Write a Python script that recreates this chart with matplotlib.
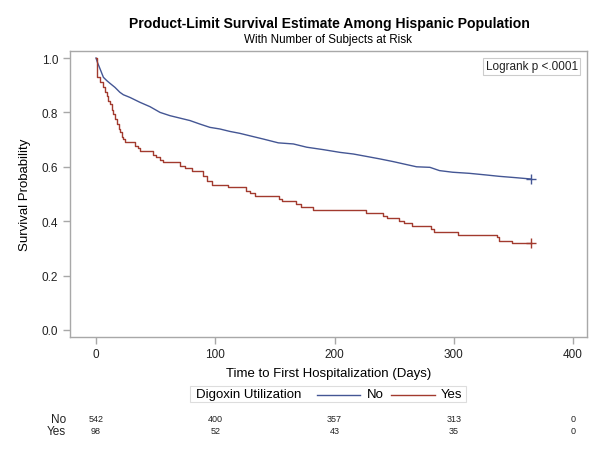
import matplotlib
matplotlib.use("Agg")
import matplotlib.pyplot as plt
import matplotlib.transforms as mtransforms
from matplotlib.lines import Line2D
from matplotlib.patches import Rectangle

plt.rcParams['font.family'] = ['Liberation Sans', 'DejaVu Sans']

# Kaplan-Meier estimates (days, survival)
no_days = [0, 1.2, 3.4, 6.2, 9, 11.7, 15.9, 20, 22.9, 28.5, 36.9, 45.3, 53.7, 62, 70.4,
           78.8, 87.2, 95.5, 103.9, 112.3, 120.6, 129, 140.3, 152.9, 165.5, 176.7,
           190.7, 204.6, 215.8, 227, 238, 249.3, 260.5, 268.8, 280, 288, 299, 313,
           327, 338, 352, 365]
no_surv = [1.0, 0.984, 0.96, 0.929, 0.917, 0.907, 0.892, 0.874, 0.865, 0.855, 0.837,
           0.821, 0.800, 0.788, 0.779, 0.770, 0.757, 0.745, 0.739, 0.730, 0.723, 0.714,
           0.702, 0.688, 0.684, 0.672, 0.663, 0.653, 0.647, 0.638, 0.629, 0.619, 0.608,
           0.600, 0.598, 0.586, 0.580, 0.576, 0.570, 0.565, 0.560, 0.555]

yes_days = [0, 0.6, 3.4, 5.6, 7.5, 9, 10, 11.7, 13, 14.5, 16, 17.3, 19, 20, 22, 22.9,
            24.3, 32.7, 35, 37, 48, 50, 53.7, 56.5, 70.4, 74.6, 80.2, 90, 92.8, 97,
            111, 126, 129, 133, 153.7, 155.7, 167.7, 171.6, 182.2, 226.4, 241, 243.8,
            254.4, 258.3, 264.7, 280.9, 283.4, 303.8, 336, 338, 348.6, 365]
yes_surv = [1.0, 0.931, 0.911, 0.892, 0.874, 0.86, 0.843, 0.831, 0.81, 0.794, 0.775,
            0.757, 0.74, 0.727, 0.71, 0.702, 0.69, 0.678, 0.669, 0.659, 0.645, 0.635,
            0.625, 0.616, 0.604, 0.595, 0.586, 0.567, 0.549, 0.533, 0.525, 0.512, 0.502,
            0.491, 0.482, 0.473, 0.463, 0.451, 0.441, 0.430, 0.420, 0.412, 0.402, 0.392,
            0.381, 0.371, 0.359, 0.349, 0.341, 0.328, 0.319, 0.319]

# number at risk table
risk_days = [0, 100, 200, 300, 400]
risk_no = [542, 400, 357, 313, 0]
risk_yes = [98, 52, 43, 35, 0]

blue = '#445694'
red = '#A23A2E'
frame = '#a8a8a8'

W, H = 604, 456
fig = plt.figure(figsize=(W / 100, H / 100), dpi=100)
ax = fig.add_axes([70 / W, 1 - 337.5 / H, 517 / W, 286 / H])

# the "No" group has hundreds of tiny steps, so it reads as a jagged line
ax.plot(no_days, no_surv, color=blue, lw=1.0)
ax.plot(yes_days, yes_surv, drawstyle='steps-post', color=red, lw=1.0)
ax.plot(no_days[-1], no_surv[-1], marker='+', color=blue, ms=7, mew=1.0)
ax.plot(yes_days[-1], yes_surv[-1], marker='+', color=red, ms=7, mew=1.0)

ax.set_xlim(-21.8, 411.7)
ax.set_ylim(-0.024, 1.0276)
ax.set_xticks([0, 100, 200, 300, 400])
ax.set_yticks([0.0, 0.2, 0.4, 0.6, 0.8, 1.0])
ax.set_yticklabels(['0.0', '0.2', '0.4', '0.6', '0.8', '1.0'])
for s in ax.spines.values():
    s.set_color(frame)
    s.set_linewidth(1.0)
ax.tick_params(colors=frame, labelcolor='#222222', labelsize=8.5, length=5, width=1.0)

ax.set_xlabel('Time to First Hospitalization (Days)', fontsize=9.5, labelpad=5)
ax.set_ylabel('Survival Probability', fontsize=9.5, labelpad=8)

# p-value box
ax.text(0.982, 0.966, 'Logrank p <.0001', transform=ax.transAxes, ha='right', va='top',
        fontsize=8.5, color='#222222',
        bbox=dict(boxstyle='square,pad=0.2', fc='white', ec='#cccccc', lw=0.8))

# titles
fig.text(329 / W, 1 - 24 / H, 'Product-Limit Survival Estimate Among Hispanic Population',
         ha='center', va='center', fontsize=10.1, fontweight='bold')
fig.text(328 / W, 1 - 40 / H, 'With Number of Subjects at Risk',
         ha='center', va='center', fontsize=8.4)

# legend box at the bottom
fig.patches.append(Rectangle((190 / W, 1 - 403 / H), 276 / W, 16 / H, transform=fig.transFigure,
                             fc='white', ec='#dddddd', lw=0.8))
fig.text(196 / W, 1 - 395.5 / H, 'Digoxin Utilization', ha='left', va='center', fontsize=9.5)
fig.lines.append(Line2D([317 / W, 360 / W], [1 - 395.5 / H] * 2, transform=fig.transFigure,
                        color=blue, lw=1.0))
fig.text(367 / W, 1 - 395.5 / H, 'No', ha='left', va='center', fontsize=9.5)
fig.lines.append(Line2D([391 / W, 435 / W], [1 - 395.5 / H] * 2, transform=fig.transFigure,
                        color=red, lw=1.0))
fig.text(441 / W, 1 - 395.5 / H, 'Yes', ha='left', va='center', fontsize=9.5)

# at risk rows
trans = mtransforms.blended_transform_factory(ax.transData, fig.transFigure)
for label, counts, ypix in [('No', risk_no, 420), ('Yes', risk_yes, 432)]:
    fig.text(66 / W, 1 - ypix / H, label, ha='right', va='center', fontsize=8.5, color='#222222')
    for d, n in zip(risk_days, counts):
        ax.text(d, 1 - ypix / H, str(n), transform=trans, ha='center', va='center',
                fontsize=6.5, color='#222222', clip_on=False)

fig.savefig('out.png', dpi=100)
